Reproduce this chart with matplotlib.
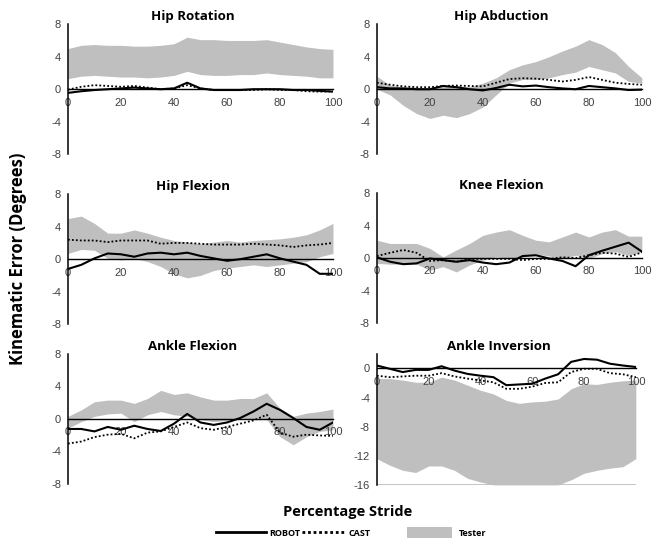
import matplotlib
matplotlib.use("Agg")
import matplotlib.pyplot as plt
from matplotlib.patches import Patch
from matplotlib.lines import Line2D

plt.rcParams["axes.unicode_minus"] = False  # trattino semplice come nell'originale

# percentuale del passo (asse x comune a tutti i pannelli)
stride = [0, 5, 10, 15, 20, 25, 30, 35, 40, 45, 50, 55, 60, 65, 70, 75, 80, 85, 90, 95, 100]

# Hip Rotation
hr_upper = [5.0, 5.4, 5.5, 5.4, 5.4, 5.3, 5.3, 5.4, 5.6, 6.4, 6.1, 6.1, 6.0, 6.0, 6.0, 6.1, 5.8, 5.5, 5.2, 5.0, 4.9]
hr_lower = [1.3, 1.6, 1.7, 1.6, 1.5, 1.5, 1.4, 1.5, 1.7, 2.2, 1.8, 1.7, 1.7, 1.8, 1.8, 2.0, 1.8, 1.7, 1.6, 1.4, 1.4]
hr_robot = [-0.45, -0.25, -0.1, 0.0, 0.1, 0.2, 0.1, 0.0, 0.1, 0.8, 0.1, -0.1, -0.1, -0.1, 0.0, 0.0, 0.0, -0.1, -0.1, -0.2, -0.3]
hr_cast = [-0.05, 0.3, 0.5, 0.4, 0.3, 0.4, 0.2, 0.0, 0.1, 0.5, 0.1, -0.1, -0.1, -0.1, -0.1, 0.0, -0.1, -0.1, -0.25, -0.3, -0.25]

# Hip Abduction
ha_upper = [1.6, 0.5, 0.25, 0.25, 0.1, 0.3, 0.4, 0.3, 0.75, 1.4, 2.4, 3.0, 3.4, 4.0, 4.7, 5.3, 6.1, 5.5, 4.5, 2.8, 1.4]
ha_lower = [0.0, -0.7, -2.0, -3.0, -3.6, -3.2, -3.5, -3.0, -2.2, -0.7, 0.75, 1.2, 1.2, 1.4, 1.8, 2.1, 2.8, 2.4, 2.0, 0.95, 0.75]
ha_robot = [0.25, 0.1, 0.1, 0.0, 0.0, 0.4, 0.25, 0.0, -0.15, 0.15, 0.55, 0.35, 0.45, 0.25, 0.1, 0.0, 0.4, 0.25, 0.1, -0.1, -0.05]
ha_cast = [0.8, 0.55, 0.35, 0.25, 0.25, 0.4, 0.45, 0.4, 0.35, 0.8, 1.25, 1.35, 1.3, 1.15, 0.95, 1.15, 1.5, 1.15, 0.8, 0.65, 0.55]

# Hip Flexion
hf_upper = [5.0, 5.3, 4.4, 3.2, 3.2, 3.6, 3.2, 2.7, 2.3, 2.1, 1.9, 2.1, 2.3, 2.1, 2.3, 2.4, 2.5, 2.7, 3.0, 3.6, 4.4]
hf_lower = [0.7, 1.2, 1.1, 0.1, -0.1, 0.1, -0.3, -0.9, -1.8, -2.3, -2.0, -1.4, -1.1, -0.9, -0.7, -0.9, -0.7, -0.5, -0.3, 0.3, 0.7]
hf_robot = [-1.2, -0.7, 0.1, 0.7, 0.6, 0.3, 0.7, 0.8, 0.6, 0.8, 0.4, 0.1, -0.2, 0.0, 0.3, 0.6, 0.1, -0.3, -0.7, -1.8, -1.8]
hf_cast = [2.4, 2.3, 2.3, 2.1, 2.3, 2.3, 2.3, 1.9, 2.0, 2.0, 1.9, 1.8, 1.8, 1.8, 1.9, 1.8, 1.7, 1.5, 1.7, 1.8, 2.0]

# Knee Flexion
kf_upper = [2.2, 1.8, 1.8, 1.8, 1.2, 0.15, 1.0, 1.8, 2.8, 3.2, 3.5, 2.8, 2.2, 2.0, 2.6, 3.2, 2.6, 3.2, 3.5, 2.7, 2.7]
kf_lower = [-0.65, -0.75, -0.75, -0.75, -1.5, -1.05, -1.7, -0.85, -0.25, 0.15, -0.05, 0.15, 0.5, 0.25, -0.05, 0.35, -0.05, 0.55, 0.8, 0.35, 0.8]
kf_robot = [0.1, -0.45, -0.75, -0.65, -0.05, -0.25, -0.45, -0.25, -0.55, -0.75, -0.55, 0.25, 0.35, -0.05, -0.35, -1.0, 0.35, 0.9, 1.4, 1.9, 0.8]
kf_cast = [0.25, 0.65, 1.0, 0.65, -0.35, -0.25, -0.45, -0.1, -0.1, -0.1, -0.1, -0.25, -0.1, -0.1, 0.1, 0.0, 0.35, 0.65, 0.55, 0.15, 0.7]

# Ankle Flexion
af_upper = [0.3, 1.1, 2.1, 2.3, 2.3, 1.9, 2.5, 3.5, 3.0, 3.2, 2.7, 2.3, 2.3, 2.5, 2.5, 3.2, 1.3, 0.3, 0.7, 0.9, 1.2]
af_lower = [-1.15, -0.35, 0.3, 0.6, 0.7, -0.35, 0.5, 0.9, 0.5, 0.3, -0.1, -0.35, -0.2, 0.1, -0.1, -0.1, -2.2, -3.2, -2.2, -1.55, -1.35]
af_robot = [-1.25, -1.25, -1.55, -1.0, -1.35, -0.85, -1.25, -1.5, -0.6, 0.6, -0.45, -0.75, -0.45, 0.1, 0.9, 1.85, 1.1, 0.1, -1.0, -1.35, -0.45]
af_cast = [-3.05, -2.8, -2.25, -1.95, -1.85, -2.4, -1.7, -1.55, -1.0, -0.45, -1.15, -1.35, -1.0, -0.6, -0.2, 0.5, -1.7, -2.2, -1.95, -2.05, -2.1]

# Ankle Inversion
ai_upper = [-1.4, -1.4, -1.6, -1.9, -1.9, -1.2, -1.6, -2.3, -3.0, -3.5, -4.4, -4.8, -4.6, -4.5, -4.2, -2.8, -2.1, -2.2, -1.9, -1.7, -1.6]
ai_lower = [-12.4, -13.3, -14.0, -14.3, -13.4, -13.4, -14.0, -15.1, -15.6, -16.0, -16.0, -16.0, -16.0, -16.0, -16.0, -15.3, -14.4, -14.0, -13.7, -13.5, -12.4]
ai_robot = [0.4, -0.05, -0.5, -0.2, -0.2, 0.3, -0.3, -0.75, -1.0, -1.2, -2.3, -2.2, -2.1, -1.4, -0.8, 0.9, 1.3, 1.2, 0.65, 0.4, 0.2]
ai_cast = [-1.0, -1.2, -1.1, -1.0, -1.0, -0.65, -1.1, -1.4, -1.65, -1.9, -2.8, -2.8, -2.5, -2.0, -1.9, -0.5, -0.05, -0.05, -0.65, -0.8, -1.2]

titoli = ["Hip Rotation", "Hip Abduction", "Hip Flexion", "Knee Flexion", "Ankle Flexion", "Ankle Inversion"]
dati = [
    (hr_upper, hr_lower, hr_robot, hr_cast),
    (ha_upper, ha_lower, ha_robot, ha_cast),
    (hf_upper, hf_lower, hf_robot, hf_cast),
    (kf_upper, kf_lower, kf_robot, kf_cast),
    (af_upper, af_lower, af_robot, af_cast),
    (ai_upper, ai_lower, ai_robot, ai_cast),
]

GRIGIO = "#bfbfbf"
TITOLO_FONT = ["Open Sans", "DejaVu Sans"]
TICK_FONT = ["Liberation Sans", "DejaVu Sans"]
PUNTINI = (0, (1, 1.2))

fig = plt.figure(figsize=(6.6, 5.43), dpi=100)

# posizioni dei pannelli [left, bottom, width, height] in frazione di figura
posizioni = [
    [0.103, 0.716, 0.4015, 0.2394],
    [0.571, 0.716, 0.4015, 0.2394],
    [0.103, 0.403, 0.4015, 0.2394],
    [0.571, 0.405, 0.4015, 0.2394],
    [0.103, 0.109, 0.4015, 0.2394],
    [0.571, 0.107, 0.3924, 0.2413],
]

for i, (titolo, (sup, inf, robot, cast)) in enumerate(zip(titoli, dati)):
    ax = fig.add_axes(posizioni[i])
    ax.fill_between(stride, inf, sup, color=GRIGIO, linewidth=0, zorder=1)
    ax.plot(stride, cast, color="black", linestyle=PUNTINI, linewidth=1.3, zorder=3)
    ax.plot(stride, robot, color="black", linewidth=1.5, zorder=4)

    ax.set_xlim(0, 100)
    if titolo == "Ankle Inversion":
        ax.set_ylim(-16, 2)
        ax.set_yticks([-16, -12, -8, -4, 0])
        ax.axhline(-16, color=GRIGIO, linewidth=2, zorder=1)
    else:
        ax.set_ylim(-8, 8)
        ax.set_yticks([-8, -4, 0, 4, 8])
    ax.set_xticks([0, 20, 40, 60, 80, 100])

    ax.spines["top"].set_visible(False)
    ax.spines["right"].set_visible(False)
    ax.spines["bottom"].set_position(("data", 0))
    ax.spines["bottom"].set_zorder(2)
    ax.spines["left"].set_linewidth(1.1)
    ax.spines["bottom"].set_linewidth(1.0)
    ax.tick_params(axis="both", length=0, labelsize=8, labelcolor="#404040")
    ax.tick_params(axis="x", pad=6)
    ax.tick_params(axis="y", pad=5)
    for lab in ax.get_xticklabels() + ax.get_yticklabels():
        lab.set_family(TICK_FONT)
    ax.patch.set_alpha(0)

    # titolo centrato sull'area del grafico (un po' a sinistra dell'area dati)
    ax.set_title(titolo, x=0.47, fontsize=9.5, fontweight="bold", family=TITOLO_FONT, pad=3)

fig.text(0.027, 0.523, "Kinematic Error (Degrees)", rotation=90, ha="center", va="center",
         fontsize=12, fontweight="bold", family=TITOLO_FONT)
fig.text(0.527, 0.057, "Percentage Stride", ha="center", va="center",
         fontsize=10.5, fontweight="bold", family=TITOLO_FONT)

# legenda: tre voci separate per rispettare le spaziature dell'originale
voci = [
    (Line2D([], [], color="black", linewidth=2.0), "ROBOT", 0.328, 5.5, 0.35),
    (Line2D([], [], color="black", linestyle=(0, (1, 1.0)), linewidth=2.0), "CAST", 0.458, 4.8, 0.35),
    (Patch(facecolor=GRIGIO, edgecolor="none"), "Tester", 0.617, 5.0, 0.7),
]
for maniglia, testo, x0, lunghezza, spazio in voci:
    fig.legend([maniglia], [testo], loc="center left", bbox_to_anchor=(x0, 0.019),
               frameon=False, handlelength=lunghezza, handleheight=1.4,
               handletextpad=spazio, borderpad=0, borderaxespad=0,
               prop={"family": TITOLO_FONT, "weight": "bold", "size": 6.5})

fig.savefig("out.png", dpi=100)
